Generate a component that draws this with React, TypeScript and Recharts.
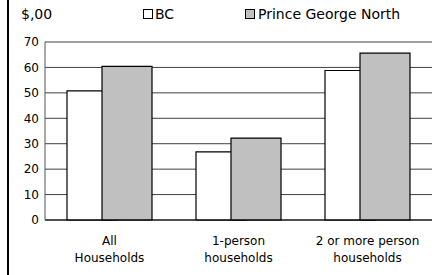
import { BarChart, Bar, XAxis, YAxis, CartesianGrid } from "recharts";

const categories = ["All\nHouseholds", "1-person\nhouseholds", "2 or more person\nhouseholds"];
const bcValues = [50.8, 26.8, 58.8];
const pgnValues = [60.4, 32.2, 65.6];
const yTicks = [0, 10, 20, 30, 40, 50, 60, 70];

const data = categories.map((name, i) => ({
    name,
    bc: bcValues[i],
    pgn: pgnValues[i],
}));

const font = "'DejaVu Sans', sans-serif";

const CategoryTick = ({ x, y, payload }: any) => {
    const lines = String(payload.value).split("\n");
    return (
        <text x={x} y={y} textAnchor="middle" fontFamily={font} fontSize={12} fill="#000">
            {lines.map((line, i) => (
                <tspan key={i} x={x} y={y + 17 + i * 17}>
                    {line}
                </tspan>
            ))}
        </text>
    );
};

// legend drawn like the old excel one, with the "$,00" unit on the left
const TopLegend = () => (
    <div style={{ position: "absolute", left: 0, top: 0, width: 435, height: 30, fontFamily: font, fontSize: 14, color: "#000", lineHeight: "16px" }}>
        <span style={{ position: "absolute", left: 21, top: 6 }}>$,00</span>
        <span style={{ position: "absolute", left: 143, top: 9, width: 8, height: 8, border: "1px solid #000", background: "#fff" }} />
        <span style={{ position: "absolute", left: 155, top: 6 }}>BC</span>
        <span style={{ position: "absolute", left: 245, top: 9, width: 8, height: 8, border: "1px solid #000", background: "#c0c0c0" }} />
        <span style={{ position: "absolute", left: 258, top: 6 }}>Prince George North</span>
    </div>
);

export default function App() {
    return (
        <div style={{ position: "fixed", left: 0, top: 0, width: 435, height: 275, background: "#fff" }}>
            <div style={{ position: "absolute", left: 7, top: 0, width: 1.5, height: 275, background: "#000" }} />
            <BarChart
                width={435}
                height={275}
                data={data}
                margin={{ top: 42, right: 3, bottom: 0, left: 0 }}
                barGap={-15}
                barSize={50}
            >
                <CartesianGrid vertical={false} stroke="#404040" />
                <XAxis
                    dataKey="name"
                    height={55}
                    tickLine={false}
                    axisLine={{ stroke: "#000" }}
                    tick={<CategoryTick />}
                    interval={0}
                />
                <YAxis
                    width={45}
                    domain={[0, 70]}
                    ticks={yTicks}
                    tickLine={false}
                    tickSize={4}
                    tickMargin={2}
                    axisLine={{ stroke: "#555" }}
                    tick={{ fontFamily: font, fontSize: 12, fill: "#000" }}
                />
                <Bar dataKey="bc" name="BC" fill="#fff" stroke="#000" strokeWidth={1.2} isAnimationActive={false} />
                <Bar dataKey="pgn" name="Prince George North" fill="#c0c0c0" stroke="#000" strokeWidth={1.2} isAnimationActive={false} />
            </BarChart>
            <TopLegend />
        </div>
    );
}
